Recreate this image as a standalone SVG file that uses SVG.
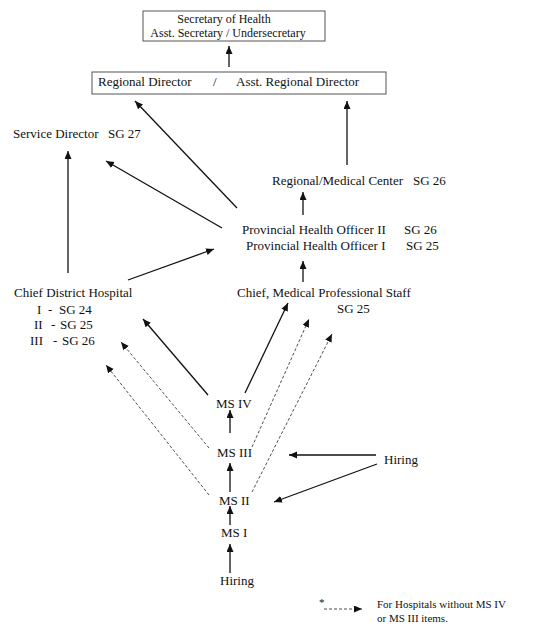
<svg xmlns="http://www.w3.org/2000/svg" width="546" height="636" viewBox="0 0 546 636">
<style>
text{font-family:"Liberation Serif","Times New Roman",serif;font-size:13px;fill:#111}
.sm{font-size:12px}
.lg{font-size:11px}
.box{fill:#fff;stroke:#555;stroke-width:1}
.s{stroke:#111;stroke-width:1.3;fill:none;marker-end:url(#ah)}
.d{stroke:#222;stroke-width:0.8;stroke-dasharray:3 2;fill:none;marker-end:url(#ah)}
</style>
<defs>
<marker id="ah" markerUnits="userSpaceOnUse" markerWidth="10" markerHeight="8" refX="8" refY="3.5" orient="auto">
<path d="M0,0 L8,3.5 L0,7 Z" fill="#111"/>
</marker>
</defs>
<rect width="546" height="636" fill="#fff"/>
<g id="connectors">
<line class="s" x1="229" y1="67" x2="229" y2="46"/>
<line class="s" x1="237" y1="208" x2="135" y2="101"/>
<line class="s" x1="347" y1="165" x2="347" y2="101"/>
<line class="s" x1="68" y1="273" x2="68" y2="151"/>
<line class="s" x1="222" y1="228" x2="106" y2="161"/>
<line class="s" x1="303" y1="215" x2="303" y2="192"/>
<line class="s" x1="303" y1="282" x2="303" y2="261"/>
<line class="s" x1="128" y1="280" x2="214" y2="249"/>
<line class="s" x1="208" y1="395" x2="143" y2="319"/>
<line class="s" x1="245" y1="393" x2="288" y2="303"/>
<line class="d" x1="209" y1="448" x2="121" y2="342"/>
<line class="d" x1="252" y1="447" x2="309" y2="319"/>
<line class="d" x1="209" y1="495" x2="106" y2="365"/>
<line class="d" x1="252" y1="492" x2="332" y2="334"/>
<line class="s" x1="230" y1="433" x2="230" y2="410"/>
<line class="s" x1="230" y1="492" x2="230" y2="463"/>
<line class="s" x1="230" y1="525" x2="230" y2="506"/>
<line class="s" x1="230" y1="573" x2="230" y2="544"/>
<line class="s" x1="376" y1="455" x2="289" y2="455"/>
<line class="s" x1="377" y1="464" x2="274" y2="502"/>
<line class="d" x1="324" y1="609" x2="362" y2="609"/>
</g>
<g id="secretary">
<rect class="box" x="143" y="11" width="182" height="30"/>
<text class="sm" x="224" y="23" text-anchor="middle">Secretary of Health</text>
<text class="sm" x="228" y="37" text-anchor="middle">Asst. Secretary / Undersecretary</text>
</g>
<g id="regional-director">
<rect class="box" x="92" y="72" width="294" height="22"/>
<text x="98" y="86">Regional Director</text>
<text x="213" y="86">/</text>
<text x="236" y="86">Asst. Regional Director</text>
</g>
<g id="service-director">
<text x="13" y="138">Service Director</text>
<text x="108" y="138">SG 27</text>
</g>
<g id="regional-medical-center">
<text x="272" y="185">Regional/Medical Center</text>
<text x="413" y="185">SG 26</text>
</g>
<g id="pho">
<text x="242" y="234">Provincial Health Officer II</text>
<text x="404" y="234">SG 26</text>
<text x="246" y="250">Provincial Health Officer I</text>
<text x="406" y="250">SG 25</text>
</g>
<g id="chief-district-hospital">
<text x="14" y="297">Chief District Hospital</text>
<text x="37" y="314">I</text><text x="48" y="314">-</text><text x="59" y="314">SG 24</text>
<text x="34" y="329">II</text><text x="51" y="329">-</text><text x="60" y="329">SG 25</text>
<text x="30" y="345">III</text><text x="53" y="345">-</text><text x="62" y="345">SG 26</text>
</g>
<g id="chief-medical-staff">
<text x="237" y="297">Chief, Medical Professional Staff</text>
<text x="337" y="313">SG 25</text>
</g>
<g id="ms4"><text x="216" y="408">MS IV</text></g>
<g id="ms3"><text x="217" y="457">MS III</text></g>
<g id="ms2"><text x="219" y="505">MS II</text></g>
<g id="ms1"><text x="221" y="537">MS I</text></g>
<g id="hiring-bottom"><text x="220" y="585">Hiring</text></g>
<g id="hiring-right"><text x="384" y="464">Hiring</text></g>
<g id="legend">
<text class="lg" x="319" y="606">*</text>
<text class="lg" x="377" y="608">For Hospitals without MS IV</text>
<text class="lg" x="377" y="622">or MS III items.</text>
</g>
</svg>
